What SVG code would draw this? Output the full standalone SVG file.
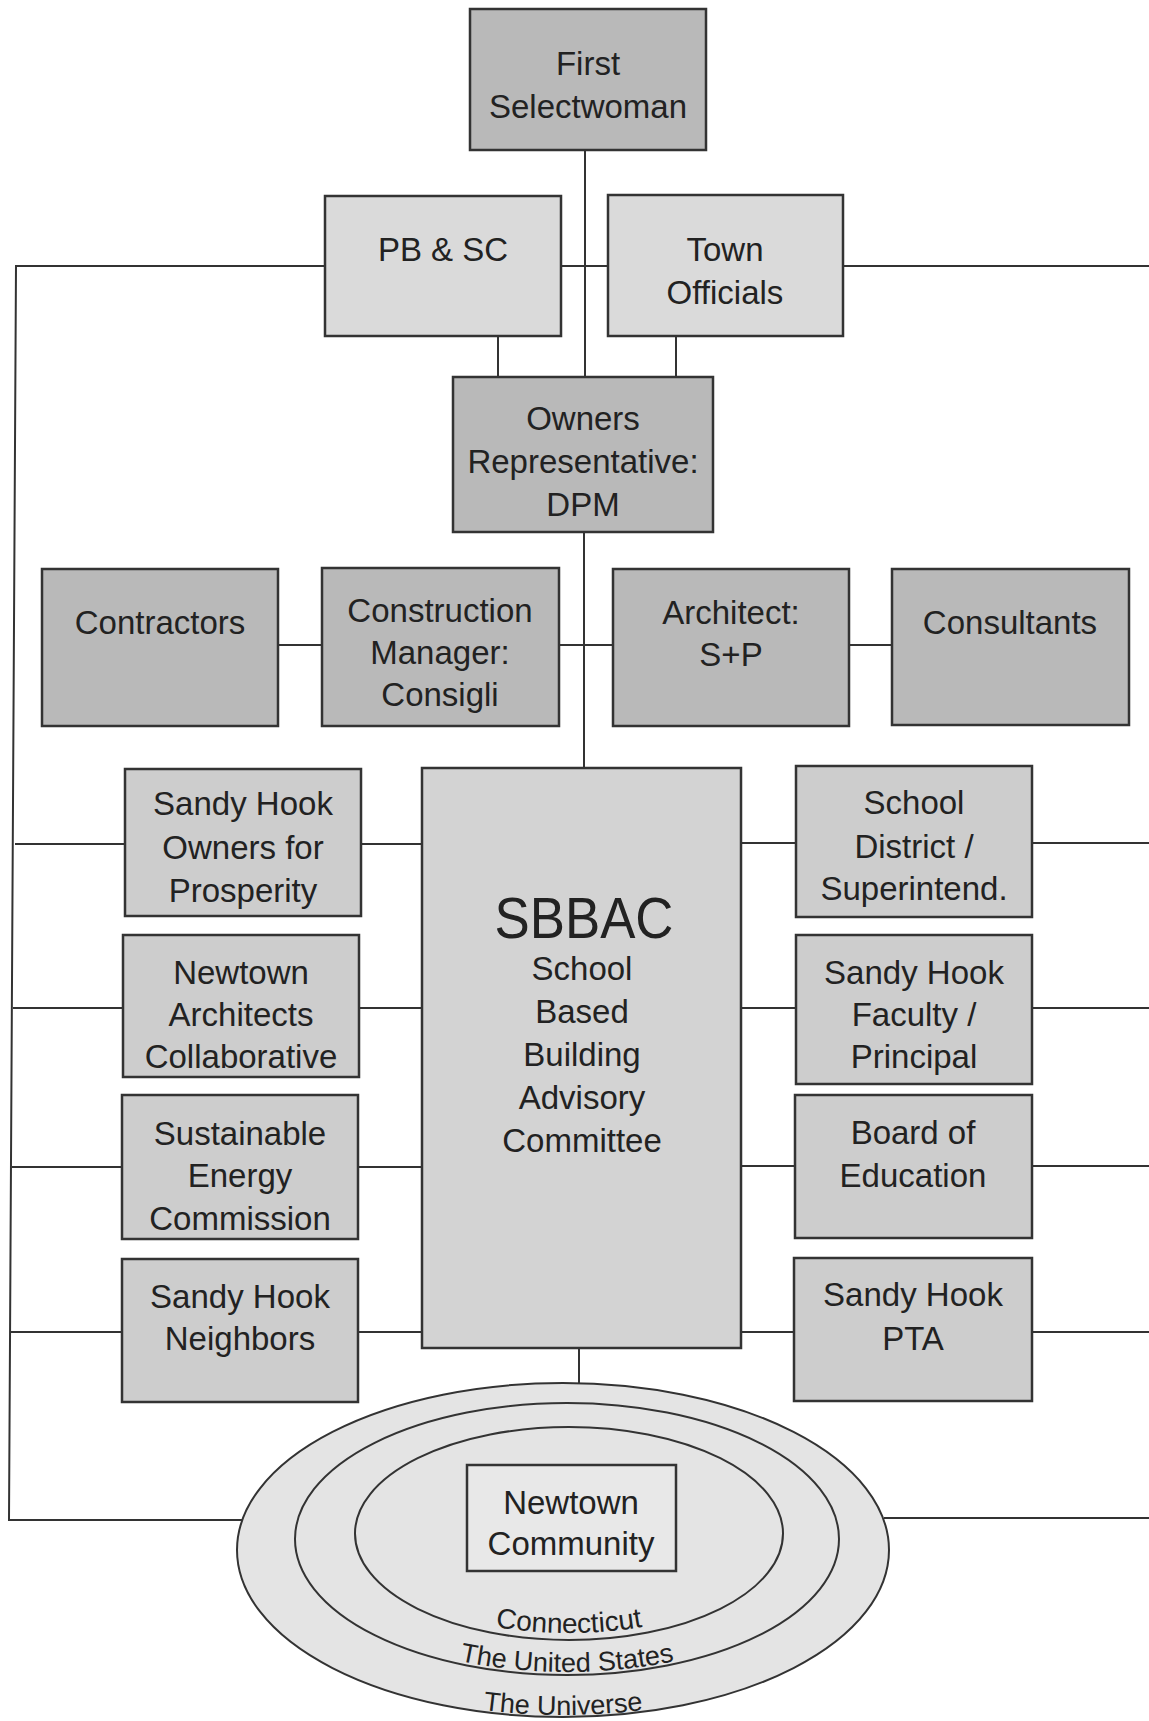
<svg xmlns="http://www.w3.org/2000/svg" width="1149" height="1721" viewBox="0 0 1149 1721">
<style>
  .box{stroke:#333;stroke-width:2.5}
  .dark{fill:#b9b9b9}
  .light{fill:#dadada}
  .mid{fill:#cdcdcd}
  .sb{fill:#d3d3d3}
  .ell{fill:#e4e4e4;stroke:#333;stroke-width:2}
  .conn line,.conn polyline{stroke:#333;stroke-width:2;fill:none}
  text{font-family:"Liberation Sans",Arial,Helvetica,sans-serif;font-size:33px;fill:#222;text-anchor:middle}
  .small{font-size:27px}
</style>
<defs>
  <path id="arcCT" d="M 357,1533.5 A 212,99.5 0 0 0 781,1533.5"/>
  <path id="arcUS" d="M 297,1539 A 270,133 0 0 0 837,1539"/>
  <path id="arcUV" d="M 239,1550 A 324,165 0 0 0 887,1550"/>
</defs>
<rect width="1149" height="1721" fill="#fff"/>

<g id="connectors" class="conn">
  <line x1="585" y1="150" x2="585" y2="377"/>
  <line x1="561" y1="266" x2="608" y2="266"/>
  <polyline points="325,266 16,266 9,1520 242,1520"/>
  <line x1="843" y1="266" x2="1149" y2="266"/>
  <line x1="498" y1="336" x2="498" y2="377"/>
  <line x1="676" y1="336" x2="676" y2="377"/>
  <line x1="584" y1="532" x2="584" y2="768"/>
  <line x1="278" y1="645" x2="322" y2="645"/>
  <line x1="559" y1="645" x2="613" y2="645"/>
  <line x1="849" y1="645" x2="892" y2="645"/>
  <line x1="15" y1="844" x2="125" y2="844"/>
  <line x1="361" y1="844" x2="422" y2="844"/>
  <line x1="13" y1="1008" x2="123" y2="1008"/>
  <line x1="359" y1="1008" x2="422" y2="1008"/>
  <line x1="12" y1="1167" x2="122" y2="1167"/>
  <line x1="358" y1="1167" x2="422" y2="1167"/>
  <line x1="11" y1="1332" x2="122" y2="1332"/>
  <line x1="358" y1="1332" x2="422" y2="1332"/>
  <line x1="741" y1="843" x2="796" y2="843"/>
  <line x1="1032" y1="843" x2="1149" y2="843"/>
  <line x1="741" y1="1008" x2="796" y2="1008"/>
  <line x1="1032" y1="1008" x2="1149" y2="1008"/>
  <line x1="741" y1="1166" x2="795" y2="1166"/>
  <line x1="1032" y1="1166" x2="1149" y2="1166"/>
  <line x1="741" y1="1332" x2="794" y2="1332"/>
  <line x1="1032" y1="1332" x2="1149" y2="1332"/>
  <line x1="579" y1="1348" x2="579" y2="1383"/>
  <line x1="884" y1="1518" x2="1149" y2="1518"/>
</g>

<g id="first-selectwoman">
  <rect class="box dark" x="470" y="9" width="236" height="141"/>
  <text x="588" y="75">First</text>
  <text x="588" y="118">Selectwoman</text>
</g>
<g id="pb-sc">
  <rect class="box light" x="325" y="196" width="236" height="140"/>
  <text x="443" y="261">PB &amp; SC</text>
</g>
<g id="town-officials">
  <rect class="box light" x="608" y="195" width="235" height="141"/>
  <text x="725" y="261">Town</text>
  <text x="725" y="304">Officials</text>
</g>
<g id="owners-rep">
  <rect class="box dark" x="453" y="377" width="260" height="155"/>
  <text x="583" y="430">Owners</text>
  <text x="583" y="473">Representative:</text>
  <text x="583" y="516">DPM</text>
</g>
<g id="contractors">
  <rect class="box dark" x="42" y="569" width="236" height="157"/>
  <text x="160" y="634">Contractors</text>
</g>
<g id="construction-manager">
  <rect class="box dark" x="322" y="568" width="237" height="158"/>
  <text x="440" y="622">Construction</text>
  <text x="440" y="664">Manager:</text>
  <text x="440" y="706">Consigli</text>
</g>
<g id="architect">
  <rect class="box dark" x="613" y="569" width="236" height="157"/>
  <text x="731" y="624">Architect:</text>
  <text x="731" y="666">S+P</text>
</g>
<g id="consultants">
  <rect class="box dark" x="892" y="569" width="237" height="156"/>
  <text x="1010" y="634">Consultants</text>
</g>
<g id="sbbac">
  <rect class="box sb" x="422" y="768" width="319" height="580"/>
  <text x="584" y="938" style="font-size:58px" textLength="179" lengthAdjust="spacingAndGlyphs">SBBAC</text>
  <text x="582" y="980">School</text>
  <text x="582" y="1023">Based</text>
  <text x="582" y="1066">Building</text>
  <text x="582" y="1109">Advisory</text>
  <text x="582" y="1152">Committee</text>
</g>
<g id="sh-owners-prosperity">
  <rect class="box mid" x="125" y="769" width="236" height="147"/>
  <text x="243" y="815">Sandy Hook</text>
  <text x="243" y="859">Owners for</text>
  <text x="243" y="902">Prosperity</text>
</g>
<g id="newtown-architects">
  <rect class="box mid" x="123" y="935" width="236" height="142"/>
  <text x="241" y="984">Newtown</text>
  <text x="241" y="1026">Architects</text>
  <text x="241" y="1068">Collaborative</text>
</g>
<g id="sustainable-energy">
  <rect class="box mid" x="122" y="1095" width="236" height="144"/>
  <text x="240" y="1145">Sustainable</text>
  <text x="240" y="1187">Energy</text>
  <text x="240" y="1230">Commission</text>
</g>
<g id="sh-neighbors">
  <rect class="box mid" x="122" y="1259" width="236" height="143"/>
  <text x="240" y="1308">Sandy Hook</text>
  <text x="240" y="1350">Neighbors</text>
</g>
<g id="school-district">
  <rect class="box mid" x="796" y="766" width="236" height="151"/>
  <text x="914" y="814">School</text>
  <text x="914" y="858">District /</text>
  <text x="914" y="900">Superintend.</text>
</g>
<g id="sh-faculty">
  <rect class="box mid" x="796" y="935" width="236" height="149"/>
  <text x="914" y="984">Sandy Hook</text>
  <text x="914" y="1026">Faculty /</text>
  <text x="914" y="1068">Principal</text>
</g>
<g id="board-education">
  <rect class="box mid" x="795" y="1095" width="237" height="143"/>
  <text x="913" y="1144">Board of</text>
  <text x="913" y="1187">Education</text>
</g>
<g id="sh-pta">
  <rect class="box mid" x="794" y="1258" width="238" height="143"/>
  <text x="913" y="1306">Sandy Hook</text>
  <text x="913" y="1350">PTA</text>
</g>

<g id="community">
  <ellipse class="ell" cx="563" cy="1550" rx="326" ry="167"/>
  <ellipse class="ell" cx="567" cy="1539" rx="272" ry="136"/>
  <ellipse class="ell" cx="569" cy="1533.5" rx="214" ry="106.5"/>
  <rect x="467" y="1465" width="209" height="106" fill="#e8e8e8" stroke="#333" stroke-width="2.5"/>
  <text x="571" y="1514">Newtown</text>
  <text x="571" y="1555">Community</text>
  <text style="font-size:28px"><textPath href="#arcCT" startOffset="50%">Connecticut</textPath></text>
  <text class="small"><textPath href="#arcUS" startOffset="50%">The United States</textPath></text>
  <text class="small"><textPath href="#arcUV" startOffset="50%">The Universe</textPath></text>
</g>
</svg>
